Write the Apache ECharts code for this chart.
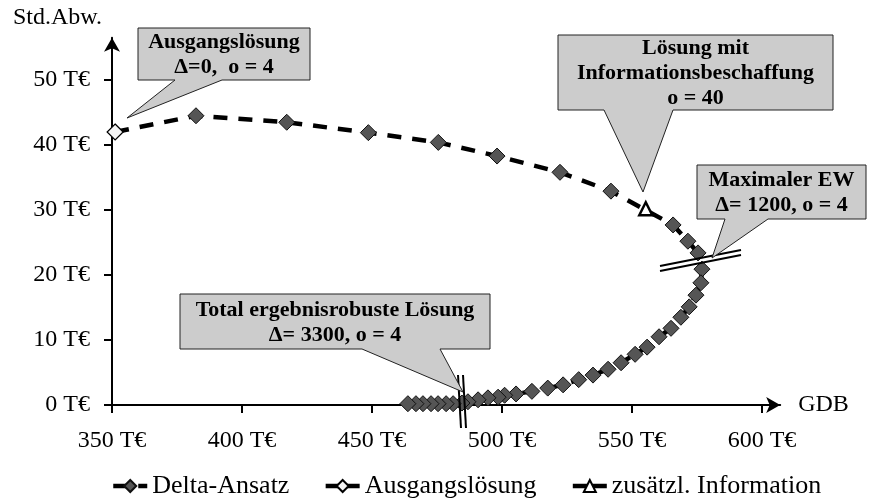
<!DOCTYPE html>
<html><head><meta charset="utf-8">
<script src="https://cdn.jsdelivr.net/npm/echarts/dist/echarts.min.js"></script>
<style>html,body{margin:0;padding:0;background:#fff}#c{width:870px;height:501px}</style>
</head><body><div id="c"></div>
<script>
// Delta-Ansatz: GDB (T€) and standard deviation (T€), in order of increasing Δ
const deltaGDB = [351.2,382.3,417.2,448.6,475.5,498.1,522.3,541.9,565.8,571.5,575.4,576.9,576.5,574.6,572.0,568.8,565.0,560.4,555.8,551.2,545.8,540.8,535.0,529.5,523.5,517.6,511.5,505.4,501.0,498.5,494.6,490.8,486.9,484.6,481.2,478.5,475.4,472.7,469.6,466.9,463.8];
const deltaStd = [42.0,44.5,43.5,41.9,40.4,38.3,35.8,32.9,27.7,25.2,23.4,20.9,18.8,16.9,15.1,13.5,11.8,10.5,8.9,7.8,6.5,5.5,4.6,3.9,3.1,2.6,2.1,1.7,1.5,1.2,1.1,0.8,0.5,0.3,0.2,0.2,0.2,0.2,0.2,0.2,0.2];
const startGDB = [351.2];
const startStd = [42.0];
const infoGDB = [555.3];
const infoStd = [30.2];
const xTicks = [350,400,450,500,550,600];
const yTicks = [0,10,20,30,40,50];
const seriesNames = ['Delta-Ansatz','Ausgangslösung','zusätzl. Information'];
const calloutTexts = [
  'Ausgangslösung\nΔ=0,  o = 4',
  'Lösung mit\nInformationsbeschaffung\no = 40',
  'Maximaler EW\nΔ= 1200, o = 4',
  'Total ergebnisrobuste Lösung\nΔ= 3300, o = 4'
];

const zip = (a, b) => a.map((v, i) => [v, b[i]]);
const FONT = '"Liberation Serif", "Times New Roman", serif';
const FS = 24;

function callout(box, base, tip, text, lh) {
  const [x0, y0, x1, y1] = box;
  return [
    { type: 'polygon', z: 100,
      shape: { points: [[x0,y0],[x1,y0],[x1,y1],[base[1],y1],tip,[base[0],y1],[x0,y1]] },
      style: { fill: '#cccccc', stroke: '#222', lineWidth: 1 } },
    { type: 'text', z: 101, x: (x0 + x1) / 2, y: (y0 + y1) / 2 + 1,
      style: { text: text, align: 'center', verticalAlign: 'middle', fill: '#000',
        fontFamily: FONT, fontWeight: 'bold', fontSize: 22, lineHeight: lh } }
  ];
}

const chart = echarts.init(document.getElementById('c'));
chart.setOption({
  animation: false,
  backgroundColor: '#fff',
  grid: { left: 112, top: 37.75, right: 89.8, bottom: 96, containLabel: false },
  xAxis: {
    type: 'value', min: 350, max: 607,
    name: 'GDB', nameLocation: 'end', nameGap: 18,
    nameTextStyle: { fontFamily: FONT, fontSize: FS, color: '#000', verticalAlign: 'middle' },
    axisLine: { show: true, onZero: false, symbol: ['none','arrow'], symbolSize: [12,14],
      lineStyle: { color: '#000', width: 2 } },
    axisTick: { show: true, length: 8, customValues: xTicks, lineStyle: { color: '#000', width: 2 } },
    axisLabel: { customValues: xTicks, margin: 24, color: '#000', fontFamily: FONT, fontSize: FS,
      formatter: v => v + ' T€' },
    splitLine: { show: false }
  },
  yAxis: {
    type: 'value', min: 0, max: 56.5,
    name: 'Std.Abw.', nameLocation: 'end', nameGap: 20,
    nameTextStyle: { fontFamily: FONT, fontSize: FS, color: '#000', align: 'right',
      verticalAlign: 'middle', padding: [0, 10, 0, 0] },
    axisLine: { show: true, onZero: false, symbol: ['none','arrow'], symbolSize: [12,14],
      lineStyle: { color: '#000', width: 2 } },
    axisTick: { show: true, length: 8, customValues: yTicks, lineStyle: { color: '#000', width: 2 } },
    axisLabel: { customValues: yTicks, margin: 22, color: '#000', fontFamily: FONT, fontSize: FS,
      formatter: v => v + ' T€' },
    splitLine: { show: false }
  },
  legend: {
    top: 468, left: 106, itemWidth: 34, itemHeight: 15, itemGap: 34,
    lineStyle: { width: 4.5 },
    textStyle: { fontFamily: FONT, fontSize: 26, color: '#000' },
    data: seriesNames
  },
  series: [
    { name: seriesNames[0], type: 'line', data: zip(deltaGDB, deltaStd), z: 2,
      symbol: 'diamond', symbolSize: 16,
      itemStyle: { color: '#555555', borderColor: '#111', borderWidth: 1 },
      lineStyle: { color: '#000', width: 4.5, type: [14, 11] } },
    { name: seriesNames[1], type: 'line', data: zip(startGDB, startStd), z: 3,
      symbol: 'diamond', symbolSize: 16,
      itemStyle: { color: '#f4f4f4', borderColor: '#000', borderWidth: 1.2 },
      lineStyle: { color: '#000', width: 4.5 } },
    { name: seriesNames[2], type: 'line', data: zip(infoGDB, infoStd), z: 3,
      symbol: 'triangle', symbolSize: 13,
      itemStyle: { color: '#fff', borderColor: '#000', borderWidth: 2.5 },
      lineStyle: { color: '#000', width: 4.5 } }
  ],
  graphic: [
    { type: 'line', z: 90, shape: { x1: 660, y1: 266, x2: 741, y2: 250 }, style: { stroke: '#000', lineWidth: 2 } },
    { type: 'line', z: 90, shape: { x1: 660, y1: 271, x2: 741, y2: 255 }, style: { stroke: '#000', lineWidth: 2 } },
    { type: 'line', z: 90, shape: { x1: 458, y1: 375, x2: 461, y2: 428 }, style: { stroke: '#000', lineWidth: 2 } },
    { type: 'line', z: 90, shape: { x1: 463, y1: 375, x2: 466, y2: 428 }, style: { stroke: '#000', lineWidth: 2 } },
    ...callout([138, 28, 310, 80], [175, 222], [127, 118], calloutTexts[0], 25),
    ...callout([558, 35, 833, 110], [604, 673], [643, 192], calloutTexts[1], 25),
    ...callout([697, 165, 866, 219], [725, 768], [712, 258], calloutTexts[2], 25),
    ...callout([180, 294, 490, 349], [362, 440], [463, 392], calloutTexts[3], 25)
  ]
});
</script>
</body></html>
